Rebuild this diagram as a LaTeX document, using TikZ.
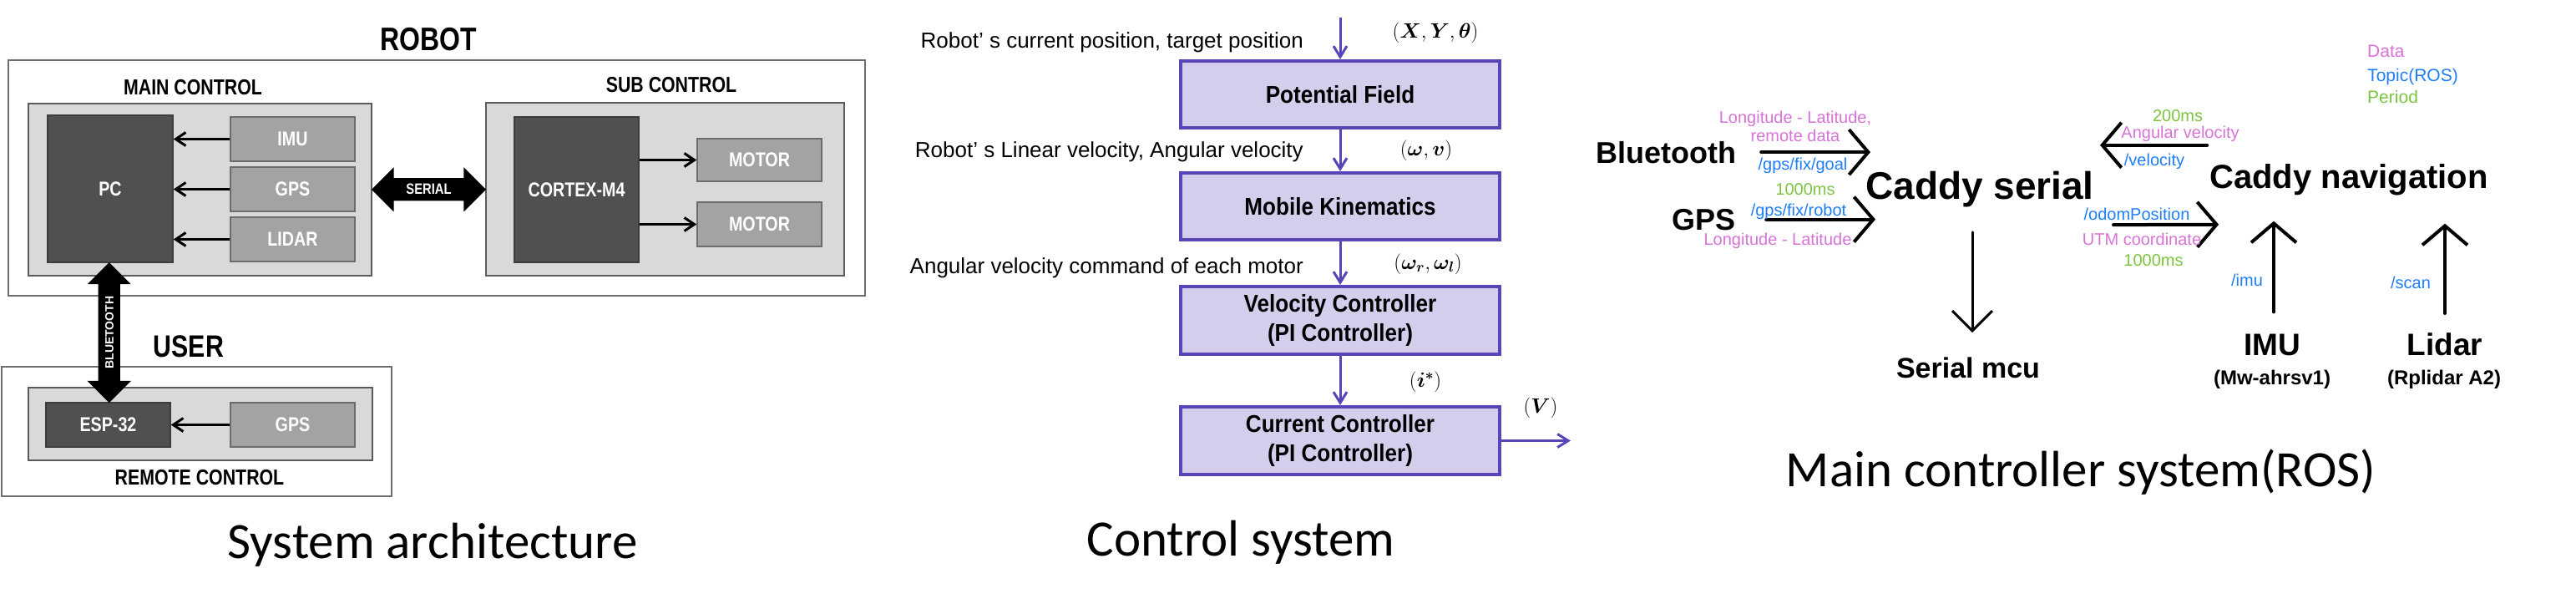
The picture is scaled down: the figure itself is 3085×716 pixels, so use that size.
\documentclass[tikz,border=0pt]{standalone}
\usepackage{bm}
\usepackage{fontspec}
\setmainfont{Liberation Sans}
\newfontfamily\condfont[FakeStretch=0.82]{Liberation Sans}
\newfontfamily\boxfont[FakeStretch=0.9]{Liberation Sans}
\newfontfamily\titlefont{Carlito}
\usetikzlibrary{arrows.meta,shapes.arrows,calc}
\definecolor{outerline}{HTML}{6E6E6E}
\definecolor{panelline}{HTML}{5A5A5A}
\definecolor{panelfill}{HTML}{D9D9D9}
\definecolor{darkfill}{HTML}{505050}
\definecolor{darkline}{HTML}{3C3C3C}
\definecolor{midfill}{HTML}{A3A3A3}
\definecolor{midline}{HTML}{6C6C6C}
\definecolor{cpurple}{HTML}{5A44B8}
\definecolor{clav}{HTML}{D4CDEC}
\definecolor{dataclr}{HTML}{D673D6}
\definecolor{topicclr}{HTML}{1E7DF8}
\definecolor{periodclr}{HTML}{7CC43E}
\newcommand{\fsz}[2]{\fontsize{#1}{#2}\selectfont}
\tikzset{
  archlbl/.style={inner sep=0pt, anchor=base},
  outerbox/.style={draw=outerline, line width=2.5pt, fill=white, inner sep=0pt},
  panelbox/.style={draw=panelline, line width=2.5pt, fill=panelfill, inner sep=0pt},
  darkbox/.style={draw=darkline, line width=1.5pt, fill=darkfill, text=white, inner sep=0pt, font=\condfont\bfseries\fsz{24}{24}},
  midbox/.style={draw=midline, line width=1.5pt, fill=midfill, text=white, inner sep=0pt, font=\condfont\bfseries\fsz{24}{24}},
  archarr/.style={line width=3pt, -{Straight Barb[length=12pt,width=16pt]}},
  serialarrow/.style={double arrow, fill=black, text=white, font=\condfont\bfseries\fsz{18}{18}, text height=12pt, text depth=0pt, inner ysep=7.5pt, inner xsep=2pt, double arrow head extend=13pt, double arrow tip angle=90},
  btarrow/.style={double arrow, fill=black, text=white, font=\bfseries\fsz{14}{14}, text height=10pt, text depth=0pt, inner ysep=8pt, inner xsep=2pt, double arrow head extend=13pt, double arrow tip angle=90},
  cbox/.style={draw=cpurple, fill=clav, line width=4pt, minimum width=382pt, minimum height=80pt, inner sep=0pt, align=center, font=\boxfont\bfseries\fsz{29}{35}},
  carr/.style={draw=cpurple, line width=3pt, -{Straight Barb[length=13pt,width=16pt]}},
  clbl/.style={font=\fsz{26}{30}, inner sep=0pt, anchor=base east},
  cmath/.style={font=\fsz{25}{29}, inner sep=0pt},
  rbig/.style={inner sep=0pt, anchor=base},
  rsmall/.style={font=\fsz{20}{22}, inner sep=0pt, anchor=base},
  legend/.style={font=\fsz{21}{24}, inner sep=0pt, anchor=base west},
  rarr/.style={line width=4pt, line cap=round, -{Straight Barb[length=23pt,width=54pt]}},
  rsarr/.style={line width=3pt, line cap=round, -{Straight Barb[length=24pt,width=48pt]}},
  titletxt/.style={font=\titlefont\fsz{61}{70}, inner sep=0pt, anchor=base}
}
\begin{document}
\begin{tikzpicture}[x=1pt,y=-1pt]
\useasboundingbox (0,0) rectangle (3085,716);
% ================= System architecture =================
\node[archlbl, font=\condfont\bfseries\fsz{39}{39}] (robotlbl) at (513,60) {ROBOT};
\node[outerbox, minimum width=1026pt, minimum height=282pt] (robot) at (523,213) {};
\node[archlbl, font=\condfont\bfseries\fsz{26}{26}] (mainlbl) at (231,113) {MAIN CONTROL};
\node[panelbox, minimum width=411pt, minimum height=206pt] (mainctl) at (239.5,227) {};
\node[darkbox, minimum width=150pt, minimum height=176pt] (pc) at (132,226) {PC};
\node[midbox, minimum width=149pt, minimum height=53pt] (imu) at (350.5,166.5) {IMU};
\node[midbox, minimum width=149pt, minimum height=53pt] (gps) at (350.5,226.5) {GPS};
\node[midbox, minimum width=149pt, minimum height=53pt] (lidar) at (350.5,286.5) {LIDAR};
\node[archlbl, font=\condfont\bfseries\fsz{26}{26}] (sublbl) at (804,110) {SUB CONTROL};
\node[panelbox, minimum width=429pt, minimum height=207pt] (subctl) at (796.5,226.5) {};
\node[darkbox, minimum width=149pt, minimum height=174pt] (cortex) at (690.5,227) {CORTEX-M4};
\node[midbox, minimum width=149pt, minimum height=51pt] (motora) at (909.5,191.5) {MOTOR};
\node[midbox, minimum width=149pt, minimum height=53pt] (motorb) at (909.5,268.5) {MOTOR};
\node[archlbl, font=\condfont\bfseries\fsz{37}{37}] (userlbl) at (226,427) {USER};
\node[outerbox, minimum width=467pt, minimum height=155pt] (user) at (235.5,516.5) {};
\node[panelbox, minimum width=412pt, minimum height=87pt] (remote) at (240,507.5) {};
\node[darkbox, minimum width=149pt, minimum height=53pt] (esp) at (129.5,508.5) {ESP-32};
\node[midbox, minimum width=149pt, minimum height=53pt] (rgps) at (350.5,508.5) {GPS};
\node[archlbl, font=\condfont\bfseries\fsz{26}{26}] (remotelbl) at (239,580) {REMOTE CONTROL};
\draw[archarr] (imu.west) -- (imu.west -| pc.east);
\draw[archarr] (gps.west) -- (gps.west -| pc.east);
\draw[archarr] (lidar.west) -- (lidar.west -| pc.east);
\draw[archarr] (cortex.east |- motora.west) -- (motora.west);
\draw[archarr] (cortex.east |- motorb.west) -- (motorb.west);
\draw[archarr] (rgps.west) -- (rgps.west -| esp.east);
\node[serialarrow, minimum height=137pt] (serial) at ($(mainctl.east)!0.5!(subctl.west)$) {SERIAL};
\node[btarrow, rotate=90, minimum height=168pt] (bluetooth) at ($(pc.south)!0.5!(esp.north)$) {BLUETOOTH};
\node[titletxt] (archtitle) at (518,668) {System architecture};
% ================= Control system =================
\coordinate (cin) at (1605,21);
\node[cbox] (pf) at (1605,113) {Potential Field};
\node[cbox] (mk) at (1605,247) {Mobile Kinematics};
\node[cbox, minimum height=81pt] (vc) at (1605,383.5) {Velocity Controller\\(PI Controller)};
\node[cbox, minimum height=81pt] (cc) at (1605,527.5) {Current Controller\\(PI Controller)};
\coordinate (cout) at (1881,527.5);
\draw[carr] (cin) -- (pf.north);
\draw[carr] (pf.south) -- (mk.north);
\draw[carr] (mk.south) -- (vc.north);
\draw[carr] (vc.south) -- (cc.north);
\draw[carr] (cc.east) -- (cout);
\node[clbl] (l1) at (1561,57) {Robot’ s current position, target position};
\node[clbl] (l2) at (1561,188) {Robot’ s Linear velocity, Angular velocity};
\node[clbl] (l3) at (1561,327) {Angular velocity command of each motor};
\node[cmath] (m1) at (1719,39) {$(\bm{X}, \bm{Y}, \bm{\theta})$};
\node[cmath] (m2) at (1708,180) {$(\bm{\omega}, \bm{v})$};
\node[cmath] (m3) at (1710,316) {$(\bm{\omega_r}, \bm{\omega_l})$};
\node[cmath] (m4) at (1707,457) {$(\bm{i^{*}})$};
\node[cmath] (m5) at (1845,488) {$(\bm{V})$};
\node[titletxt] (ctrltitle) at (1486,665) {Control system};
% ================= Main controller system (ROS) =================
\node[rbig, font=\bfseries\fsz{36}{40}] (btn) at (1995,195) {Bluetooth};
\node[rbig, font=\bfseries\fsz{36}{40}] (gpsn) at (2040,275) {GPS};
\node[rbig, font=\bfseries\fsz{46}{50}] (cs) at (2371,238) {Caddy serial};
\node[rbig, font=\bfseries\fsz{40}{44}] (cn) at (2813,225) {Caddy navigation};
\node[rbig, font=\bfseries\fsz{34}{38}] (smcu) at (2357,452) {Serial mcu};
\node[rbig, font=\bfseries\fsz{37}{40}] (imun) at (2721,425) {IMU};
\node[rbig, font=\bfseries\fsz{24}{28}] (imusub) at (2721,460) {(Mw-ahrsv1)};
\node[rbig, font=\bfseries\fsz{37}{40}] (lidn) at (2928,425) {Lidar};
\node[rbig, font=\bfseries\fsz{24}{28}] (lidsub) at (2927,460) {(Rplidar A2)};
\draw[rarr, shorten <=30pt, shorten >=-6pt] (btn.east) -- (btn.east -| cs.west);
\draw[rarr, shorten <=37pt, shorten >=-12pt] (gpsn.east) -- (gpsn.east -| cs.west);
\draw[rarr] ($(cn.west)+(-3,-41)$) -- ($(cs.east |- cn.west)+(7,-41)$);
\draw[rarr] ($(cs.east)+(23,43)$) -- ($(cn.west)+(11,54)$);
\draw[rarr] ($(imun.north)+(2,-26)$) -- ($(cn.south -| imun.north)+(2,31)$);
\draw[rarr] ($(lidn.north)+(0,-23)$) -- ($(cn.south -| lidn.north)+(0,34)$);
\draw[rsarr] ($(cs.south -| smcu.north)+(5,30)$) -- ($(smcu.north)+(5,-29)$);
\node[rsmall, text=dataclr] (t1) at (2150,147) {Longitude - Latitude,};
\node[rsmall, text=dataclr] (t2) at (2150,169) {remote data};
\node[rsmall, text=topicclr] (t3) at (2159,203) {/gps/fix/goal};
\node[rsmall, text=periodclr] (t4) at (2162,233) {1000ms};
\node[rsmall, text=topicclr] (t5) at (2154,258) {/gps/fix/robot};
\node[rsmall, text=dataclr] (t6) at (2129,293) {Longitude - Latitude};
\node[rsmall, text=periodclr] (t7) at (2608,145) {200ms};
\node[rsmall, text=dataclr] (t8) at (2611,165) {Angular velocity};
\node[rsmall, text=topicclr] (t9) at (2580,198) {/velocity};
\node[rsmall, text=topicclr] (t10) at (2559,263) {/odomPosition};
\node[rsmall, text=dataclr] (t11) at (2565,293) {UTM coordinate};
\node[rsmall, text=periodclr] (t12) at (2579,318) {1000ms};
\node[rsmall, text=topicclr] (t13) at (2691,342) {/imu};
\node[rsmall, text=topicclr] (t14) at (2887,345) {/scan};
\node[legend, text=dataclr] (lg1) at (2835,68) {Data};
\node[legend, text=topicclr] (lg2) at (2835,97) {Topic(ROS)};
\node[legend, text=periodclr] (lg3) at (2835,123) {Period};
\node[titletxt] (rostitle) at (2492,582) {Main controller system(ROS)};
\end{tikzpicture}
\end{document}
